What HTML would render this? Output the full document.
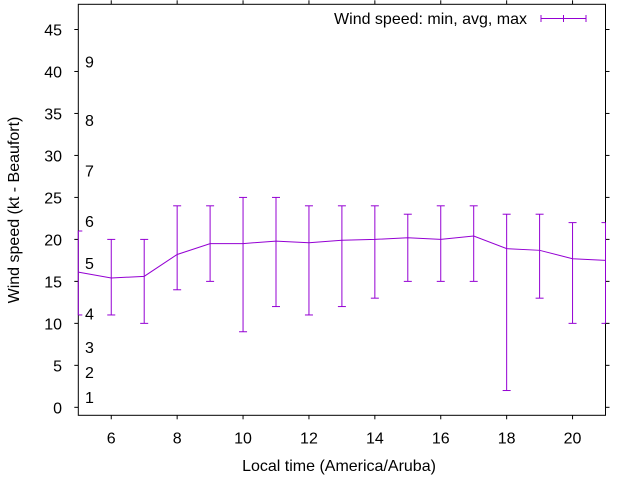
<!DOCTYPE html>
<html><head><meta charset="utf-8"><style>
body{margin:0;background:#fff}
svg text{font-family:"Liberation Sans",sans-serif;font-size:16px;fill:#000}
</style></head><body>
<svg id="chart" width="640" height="480" xmlns="http://www.w3.org/2000/svg">
<rect width="640" height="480" fill="#fff"/>
<g id="axes"></g>
<g id="series"></g>
<text transform="translate(19,210) rotate(-90)" text-anchor="middle">Wind speed (kt - Beaufort)</text>
<text x="339" y="471" text-anchor="middle">Local time (America/Aruba)</text>
<g>
<text x="527" y="24" text-anchor="end">Wind speed: min, avg, max</text>
<line x1="541" y1="18.5" x2="586" y2="18.5" stroke="#9400d3" stroke-width="1"/>
<line x1="541" y1="15" x2="541" y2="22" stroke="#9400d3"/>
<line x1="586" y1="15" x2="586" y2="22" stroke="#9400d3"/>
<line x1="563.5" y1="15" x2="563.5" y2="22" stroke="#9400d3"/>
</g>
</svg>
<script>
const hours=[5,6,7,8,9,10,11,12,13,14,15,16,17,18,19,20,21];
const avgSpeed=[16.1,15.4,15.6,18.2,19.5,19.5,19.8,19.6,19.9,20.0,20.2,20.0,20.4,18.9,18.7,17.7,17.5];
const minSpeed=[11,11,10,14,15,9,12,11,12,13,15,15,15,2,13,10,10];
const maxSpeed=[21,20,20,24,24,25,25,24,24,24,23,24,24,23,23,22,22];
const xTicks=[6,8,10,12,14,16,18,20];
const yTicks=[0,5,10,15,20,25,30,35,40,45];
const beaufortLabels=["1","2","3","4","5","6","7","8","9"];
const beaufortKt=[1.2,4.2,7.2,11.2,17.2,22.2,28.2,34.2,41.2];
const L=78.3,R=605.5,T=4.3,B=415.3,X0=5,X1=21,Y0=-0.95,Y1=48;
const sx=v=>L+(v-X0)/(X1-X0)*(R-L);
const sy=v=>B-(v-Y0)/(Y1-Y0)*(B-T);
const NS="http://www.w3.org/2000/svg";
function mk(tag,attrs,parent){const e=document.createElementNS(NS,tag);for(const k in attrs)e.setAttribute(k,attrs[k]);parent.appendChild(e);return e;}
const ax=document.getElementById('axes'),se=document.getElementById('series');
const frame=mk('rect',{x:L,y:T,width:R-L,height:B-T,fill:'none',stroke:'#000','stroke-width':1},ax);


xTicks.forEach(v=>{const x=sx(v);
mk('line',{x1:x,y1:B,x2:x,y2:B+4,stroke:'#000'},ax);
mk('line',{x1:x,y1:T,x2:x,y2:T-4,stroke:'#000'},ax);
const t=mk('text',{x:x,y:B+28,'text-anchor':'middle'},ax);t.textContent=v;

});
yTicks.forEach(v=>{const y=sy(v);
mk('line',{x1:L-4,y1:y,x2:L,y2:y,stroke:'#000'},ax);
mk('line',{x1:R,y1:y,x2:R+4,y2:y,stroke:'#000'},ax);
const t=mk('text',{x:62,y:y+6,'text-anchor':'end'},ax);t.textContent=v;

});
beaufortLabels.forEach((s,i)=>{const t=mk('text',{x:85,y:sy(beaufortKt[i])+6},ax);t.textContent=s;

});
const col='#9400d3';
const pts=hours.map((h,i)=>sx(h)+','+sy(avgSpeed[i])).join(' ');
const pl=mk('polyline',{points:pts,fill:'none',stroke:col,'stroke-width':1},se);


hours.forEach((h,i)=>{const x=sx(h);const g=mk('g',{},se);


const x0=Math.max(L,x-4),x1=Math.min(R,x+4);
mk('line',{x1:x,y1:sy(minSpeed[i]),x2:x,y2:sy(maxSpeed[i]),stroke:col},g);
mk('line',{x1:x0,y1:sy(minSpeed[i]),x2:x1,y2:sy(minSpeed[i]),stroke:col},g);
mk('line',{x1:x0,y1:sy(maxSpeed[i]),x2:x1,y2:sy(maxSpeed[i]),stroke:col},g);});
</script>
</body></html>
